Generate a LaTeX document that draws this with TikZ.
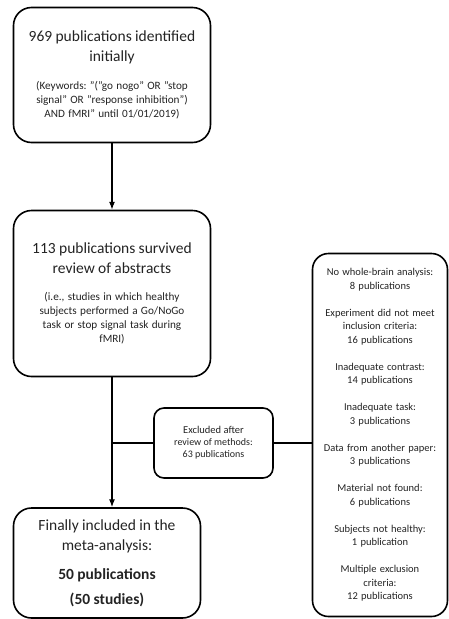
\documentclass[tikz,border=0pt]{standalone}
\usepackage{fontspec}
\setmainfont{Carlito}
\usetikzlibrary{arrows.meta,positioning}
\definecolor{InkGray}{RGB}{35,35,35}
\newcommand{\headtext}{\fontsize{15.5}{20}\selectfont}
\newcommand{\notetext}{\fontsize{11.2}{14}\selectfont}
\newcommand{\boxtext}{\fontsize{10.5}{15.5}\selectfont}
\newcommand{\sidetext}{\fontsize{10.5}{13.5}\selectfont}
\frenchspacing

\begin{document}
\begin{tikzpicture}[x=1pt,y=-1pt,>=Latex,
    flowbox/.style={draw,line width=1.6pt,rounded corners=18pt,align=center,
      text=InkGray,inner sep=0pt},
    link/.style={line width=1.1pt}]
  \useasboundingbox (0,0) rectangle (449,619);

  % main column
  \node[flowbox,minimum width=197,minimum height=135,text width=194] (found) at (112,75)
    {{\headtext 969 publications identified\\ initially\par}\vspace{14pt}
     {\notetext (Keywords: "("go nogo" OR "stop\\ signal" OR "response inhibition")\\ AND fMRI” until 01/01/2019)\par}};
  \node[flowbox,minimum width=197,minimum height=166,text width=194] (survived) at (112,293.5)
    {{\headtext 113 publications survived\\ review of abstracts\par}\vspace{13pt}
     {\notetext (i.e., studies in which healthy\\ subjects performed a Go/NoGo\\ task or stop signal task during\\ fMRI)\par}};
  \node[flowbox,minimum width=187,minimum height=110,text width=184] (included) at (107,563)
    {{\headtext Finally included in the\\ meta-analysis:\par}\vspace{9pt}
     {\headtext\bfseries 50 publications\\[5pt] (50 studies)\par}};

  % exclusions
  \node[flowbox,rounded corners=10pt,minimum width=119,minimum height=70] (excluded) at (213.5,443)
    {\boxtext Excluded after\\ review of methods:\\ 63 publications};
  \node[flowbox,rounded corners=16pt,minimum width=135,minimum height=363,text width=133] (reasons) at (380,435)
    {\sidetext No whole-brain analysis:\\ 8 publications\\[13.5pt]
     Experiment did not meet\\ inclusion criteria:\\ 16 publications\\[13.5pt]
     Inadequate contrast:\\ 14 publications\\[13.5pt]
     Inadequate task:\\ 3 publications\\[13.5pt]
     Data from another paper:\\ 3 publications\\[13.5pt]
     Material not found:\\ 6 publications\\[13.5pt]
     Subjects not healthy:\\ 1 publication\\[13.5pt]
     Multiple exclusion\\ criteria:\\ 12 publications\par};

  \coordinate (split) at (112,443);
  \draw[link,->] (found) -- (survived);
  \draw[link] (survived) -- (split);
  \draw[link,->] (split) -- (split |- included.north);
  \draw[link] (split) -- (excluded.west);
  \draw[link] (excluded.east) -- (excluded.east -| reasons.west);
\end{tikzpicture}
\end{document}
